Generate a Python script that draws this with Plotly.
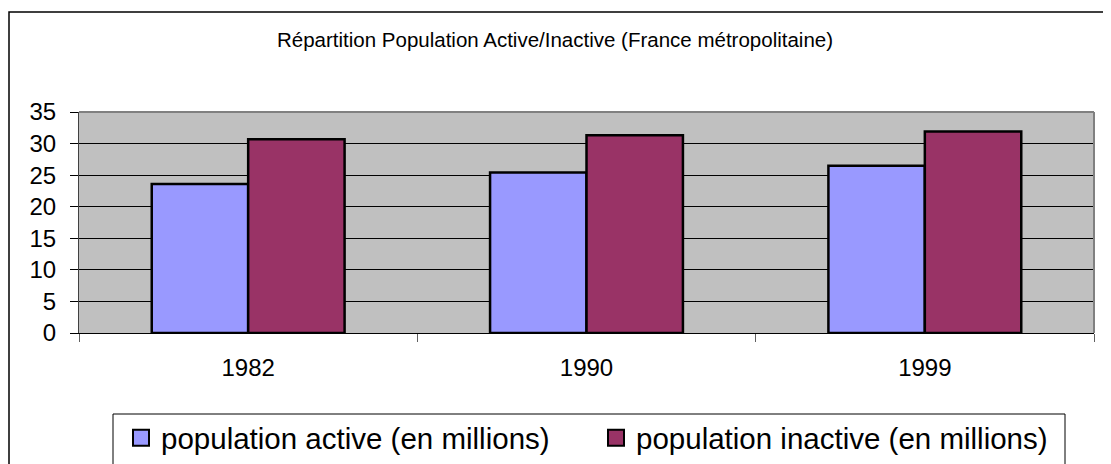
import plotly.graph_objects as go

years = ["1982", "1990", "1999"]
active = [23.6, 25.4, 26.5]
inactive = [30.7, 31.3, 31.9]
series_names = ["population active (en millions)", "population inactive (en millions)"]
colors = ["#9999FF", "#993366"]
y_ticks = [0, 5, 10, 15, 20, 25, 30, 35]
title_text = "Répartition Population Active/Inactive (France métropolitaine)"

FONT = "Arial, Liberation Sans, sans-serif"

# Page is offset by the 8px body margin; work in figure coordinates.
W, H = 1103, 456
L, R, T, B = 71, 17, 104, 131
PW, PH = W - L - R, H - T - B


def px(xf):
    return (xf - L) / PW


def py(yf):
    return (H - B - yf) / PH


fig = go.Figure()
for vals, name, col in zip([active, inactive], series_names, colors):
    fig.add_trace(go.Bar(x=years, y=vals, name=name, showlegend=False,
                         marker=dict(color=col, line=dict(color="black", width=2.5))))
# legend entries
for name, col in zip(series_names, colors):
    fig.add_trace(go.Scatter(x=[None], y=[None], mode="markers", name=name,
                             marker=dict(symbol="square", size=18, color=col,
                                         line=dict(color="black", width=2))))

fig.update_layout(
    width=W, height=H,
    margin=dict(l=L, r=R, t=T, b=B, autoexpand=False),
    paper_bgcolor="white", plot_bgcolor="#C0C0C0",
    barmode="group", bargap=0.43, bargroupgap=0,
    font=dict(family=FONT, color="black"),
    title=dict(text=title_text, x=547 / W, xref="container", xanchor="center",
               y=1 - 32 / H, yanchor="middle", yref="container",
               font=dict(size=20.5, family=FONT, color="black")),
    showlegend=True,
    legend=dict(orientation="h", x=px(113), xanchor="left",
                y=py(430), yanchor="middle",
                font=dict(size=29.5, family=FONT), bgcolor="rgba(0,0,0,0)",
                borderwidth=0, traceorder="normal", itemsizing="trace",
                entrywidth=430, entrywidthmode="pixels"),
    xaxis=dict(type="category", tickson="boundaries", ticks="outside", ticklen=8,
               tickcolor="#606060", showgrid=False, showline=True, linecolor="black",
               linewidth=1, tickfont=dict(size=24, family=FONT),
               ticklabelstandoff=13),
    yaxis=dict(range=[0, 35], tickvals=y_ticks, ticks="outside", ticklen=8,
               tickcolor="black", showgrid=True, gridcolor="black", gridwidth=1,
               showline=True, linecolor="#404040", linewidth=1, zeroline=False,
               tickfont=dict(size=24, family=FONT), ticklabelstandoff=9),
    shapes=[
        # outer chart frame (extends beyond bottom/right of image)
        dict(type="rect", xref="paper", yref="paper", x0=px(1), x1=px(W + 40),
             y0=py(H + 40), y1=py(4), line=dict(color="black", width=1.5),
             fillcolor="rgba(0,0,0,0)", layer="below"),
        # plot area top/right border
        dict(type="line", xref="paper", yref="paper", x0=0, x1=1, y0=1, y1=1,
             line=dict(color="#808080", width=2)),
        dict(type="line", xref="paper", yref="paper", x0=1, x1=1, y0=0, y1=1,
             line=dict(color="#808080", width=2)),
        # legend box
        dict(type="rect", xref="paper", yref="paper", x0=px(105),
             x1=px(1057), y0=py(H + 40), y1=py(406),
             line=dict(color="black", width=1), fillcolor="rgba(0,0,0,0)"),
    ],
)

fig.write_html("out.html")
